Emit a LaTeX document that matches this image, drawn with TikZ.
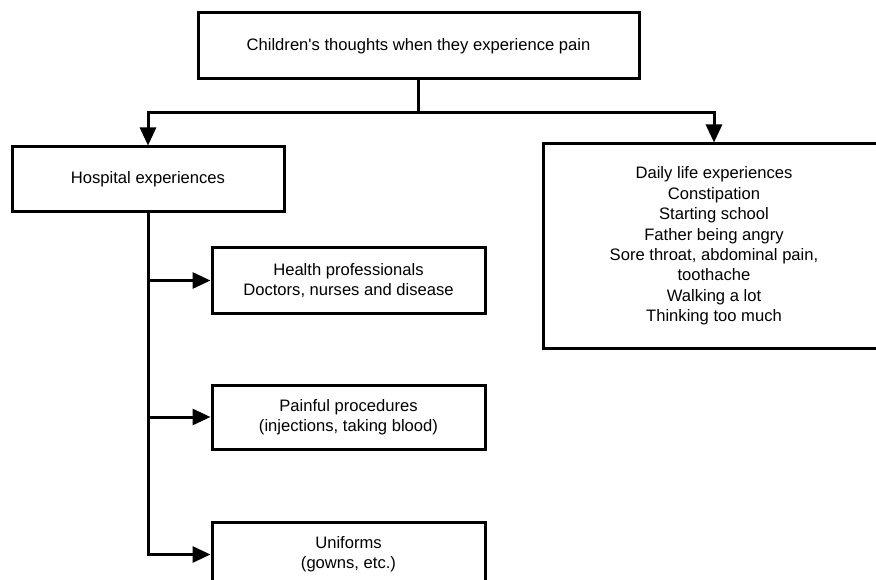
\documentclass[tikz,border=0pt]{standalone}
\usepackage{fontspec}
\setmainfont{Liberation Sans}
\usetikzlibrary{arrows.meta}
\begin{document}
\begin{tikzpicture}[x=1pt,y=-1pt,
  box/.style={draw=black,line width=3pt,fill=white,align=center,inner sep=0pt,
    font=\fontsize{16.6}{20.4}\selectfont},
  arr/.style={line width=3pt,-{Triangle[length=18pt,width=16pt]}},
  conn/.style={line width=3pt}]
\clip (0,0) rectangle (876,580);
\fill[white] (0,0) rectangle (876,580);
\node[box,minimum width=441pt,minimum height=66pt] (top) at (418.5,46) {Children\textquotesingle s thoughts when they experience pain};
\node[box,minimum width=272pt,minimum height=65pt] (hosp) at (148,179.5) {Hospital experiences};
\node[box,minimum width=342pt,minimum height=204pt] (daily) at (714,246) {Daily life experiences\\Constipation\\Starting school\\Father being angry\\Sore throat, abdominal pain,\\toothache\\Walking a lot\\Thinking too much};
\node[box,minimum width=273pt,minimum height=65pt] (health) at (348.5,280.5) {Health professionals\\Doctors, nurses and disease};
\node[box,minimum width=273pt,minimum height=64pt] (painful) at (348.5,417) {Painful procedures\\(injections, taking blood)};
\node[box,minimum width=273pt,minimum height=65pt] (uniforms) at (348.5,554.5) {Uniforms\\(gowns, etc.)};
\coordinate (j) at (418.5,113);
\draw[conn] (top.south) -- (j);
\draw[arr] (j) -| (hosp.north);
\draw[arr] (j) -| (daily.north);
\draw[arr] (hosp.south) |- (uniforms.west);
\draw[arr] (hosp.south |- health.west) -- (health.west);
\draw[arr] (hosp.south |- painful.west) -- (painful.west);
\end{tikzpicture}
\end{document}
